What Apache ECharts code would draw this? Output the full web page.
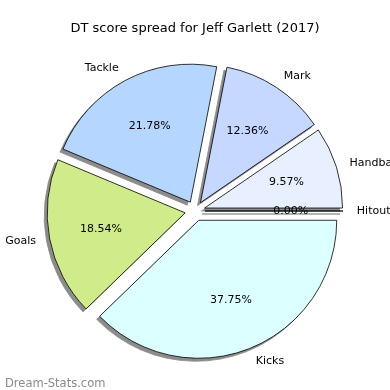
<!DOCTYPE html>
<html><head><meta charset="utf-8">
<script src="https://cdn.jsdelivr.net/npm/echarts@6/dist/echarts.min.js"></script>
<style>html,body{margin:0;padding:0;background:#fff}#c{width:390px;height:390px}</style>
</head><body><div id="c"></div>
<script>
var categories = ['Handball', 'Mark', 'Tackle', 'Goals', 'Kicks', 'Hitout'];
var values = [9.57, 12.36, 21.78, 18.54, 37.75, 0.00];
var colors = ['#e8f0ff', '#c6d8ff', '#b4d6ff', '#d0eb8a', '#dcffff', '#f0d0d0'];
var titleText = 'DT score spread for Jeff Garlett (2017)';
var watermark = 'Dream-Stats.com';

var total = values.reduce(function(a,b){return a+b;},0);
var R = 138, OFF = 10, CX = 195, CY = 211;
var font = 'DejaVu Sans';

function mkData(kind){
  return categories.map(function(c,i){
    var st;
    if (kind === 'main') st = {color:colors[i], borderColor:'#000', borderWidth:0.8};
    else if (kind === 'shadow') st = {color:'#8c8c8c', borderColor:'#8c8c8c', borderWidth:0.8};
    else st = {color:'rgba(0,0,0,0)', borderWidth:0};
    return {name:c, value:values[i], selected:true, itemStyle:st};
  });
}

var common = {type:'pie', startAngle:0, clockwise:false, selectedMode:'multiple',
  selectedOffset:OFF, minAngle:0, avoidLabelOverlap:false, silent:true,
  emphasis:{disabled:true}};

var chart = echarts.init(document.getElementById('c'), null, {renderer:'canvas'});
chart.setOption({
  animation:false,
  title:[{text:titleText, left:'center', top:17,
    textStyle:{fontFamily:font, fontSize:13, fontWeight:'normal', color:'#000'}},
    {text:watermark, left:0, top:373,
    textStyle:{fontFamily:font, fontSize:11.5, fontWeight:'normal', color:'#8a8a8a'}}],
  series:[
    Object.assign({}, common, {center:[CX-3,CY+3], radius:R, data:mkData('shadow'),
      label:{show:false}, labelLine:{show:false}}),
    Object.assign({}, common, {center:[CX,CY], radius:R, data:mkData('main'),
     label:{show:true, position:'outside', formatter:'{b}', fontFamily:font, fontSize:11,
       color:'#000', distanceToLabelLine:0},
     labelLine:{show:false, length:R*0.1, length2:0}}),
    Object.assign({}, common, {center:[CX,CY], radius:[R*0.2,R], data:mkData('pct'),
     label:{show:true, position:'inside', fontFamily:font, fontSize:11, color:'#000',
       formatter:function(p){return (p.value/total*100).toFixed(2)+'%';}},
     labelLine:{show:false}})
  ]
});
</script></body></html>
